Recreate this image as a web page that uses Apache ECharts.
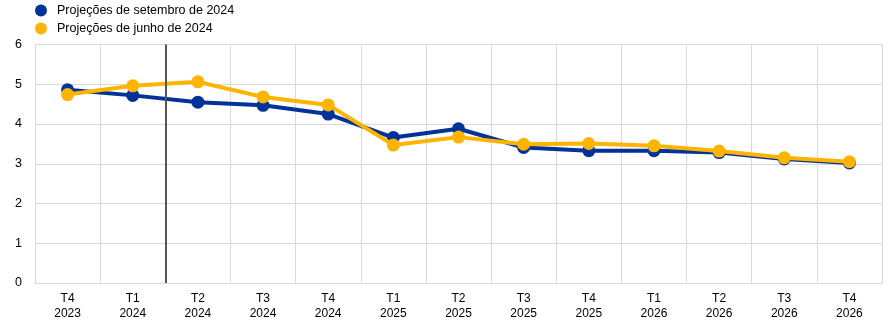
<!DOCTYPE html>
<html><head><meta charset="utf-8">
<script src="https://cdn.jsdelivr.net/npm/echarts@6/dist/echarts.min.js"></script>
<style>html,body{margin:0;padding:0;background:#fff}#c{width:889px;height:324px}</style>
</head><body><div id="c"></div>
<script>
var categories = ['T4\n2023','T1\n2024','T2\n2024','T3\n2024','T4\n2024','T1\n2025','T2\n2025','T3\n2025','T4\n2025','T1\n2026','T2\n2026','T3\n2026','T4\n2026'];
var septembro = [4.86,4.72,4.55,4.47,4.25,3.66,3.88,3.41,3.33,3.33,3.28,3.12,3.02];
var junho = [4.74,4.96,5.06,4.68,4.48,3.47,3.67,3.49,3.51,3.45,3.32,3.15,3.05];
var yTicks = [0,1,2,3,4,5,6];
var markerPos = 1.5;

var chart = echarts.init(document.getElementById('c'));
var font = 'Arial, "Liberation Sans", sans-serif';
chart.setOption({
  animation: false,
  legend: {
    orient: 'vertical', left: 30, top: -1, itemGap: 5, itemWidth: 14, itemHeight: 12,
    icon: 'circle',
    textStyle: {fontFamily: font, fontSize: 12.5, color: '#000', padding: [0,0,0,4]},
    data: ['Projeções de setembro de 2024','Projeções de junho de 2024']
  },
  grid: {left: 35, right: 7, top: 44.5, bottom: 41, containLabel: false},
  xAxis: [{
    type: 'category', data: categories, boundaryGap: true,
    axisLine: {show: true, lineStyle: {color: '#d9d9d9'}},
    axisTick: {show: false},
    splitLine: {show: true, interval: 0, lineStyle: {color: '#d9d9d9', width: 1}},
    axisLabel: {interval: 0, fontFamily: font, fontSize: 12, color: '#000', lineHeight: 15, margin: 8}
  },{
    type: 'value', min: -0.5, max: 12.5, show: false
  }],
  yAxis: {
    type: 'value', min: yTicks[0], max: yTicks[yTicks.length-1], interval: 1,
    axisLine: {show: false}, axisTick: {show: false},
    splitLine: {lineStyle: {color: '#d9d9d9', width: 1}},
    axisLabel: {fontFamily: font, fontSize: 12.5, color: '#000', margin: 13}
  },
  series: [{
    name: 'Projeções de setembro de 2024', type: 'line', data: septembro,
    color: '#003299', symbol: 'circle', symbolSize: 13,
    lineStyle: {width: 4, color: '#003299'}, itemStyle: {color: '#003299'}, z: 3
  },{
    name: 'Projeções de junho de 2024', type: 'line', data: junho,
    color: '#ffb400', symbol: 'circle', symbolSize: 13,
    lineStyle: {width: 4, color: '#ffb400'}, itemStyle: {color: '#ffb400'}, z: 4
  },{
    type: 'line', xAxisIndex: 1, data: [], silent: true,
    markLine: {silent: true, symbol: 'none', label: {show: false},
      lineStyle: {color: '#555555', width: 2, type: 'solid'},
      data: [{xAxis: markerPos}]}
  }]
});
</script></body></html>
